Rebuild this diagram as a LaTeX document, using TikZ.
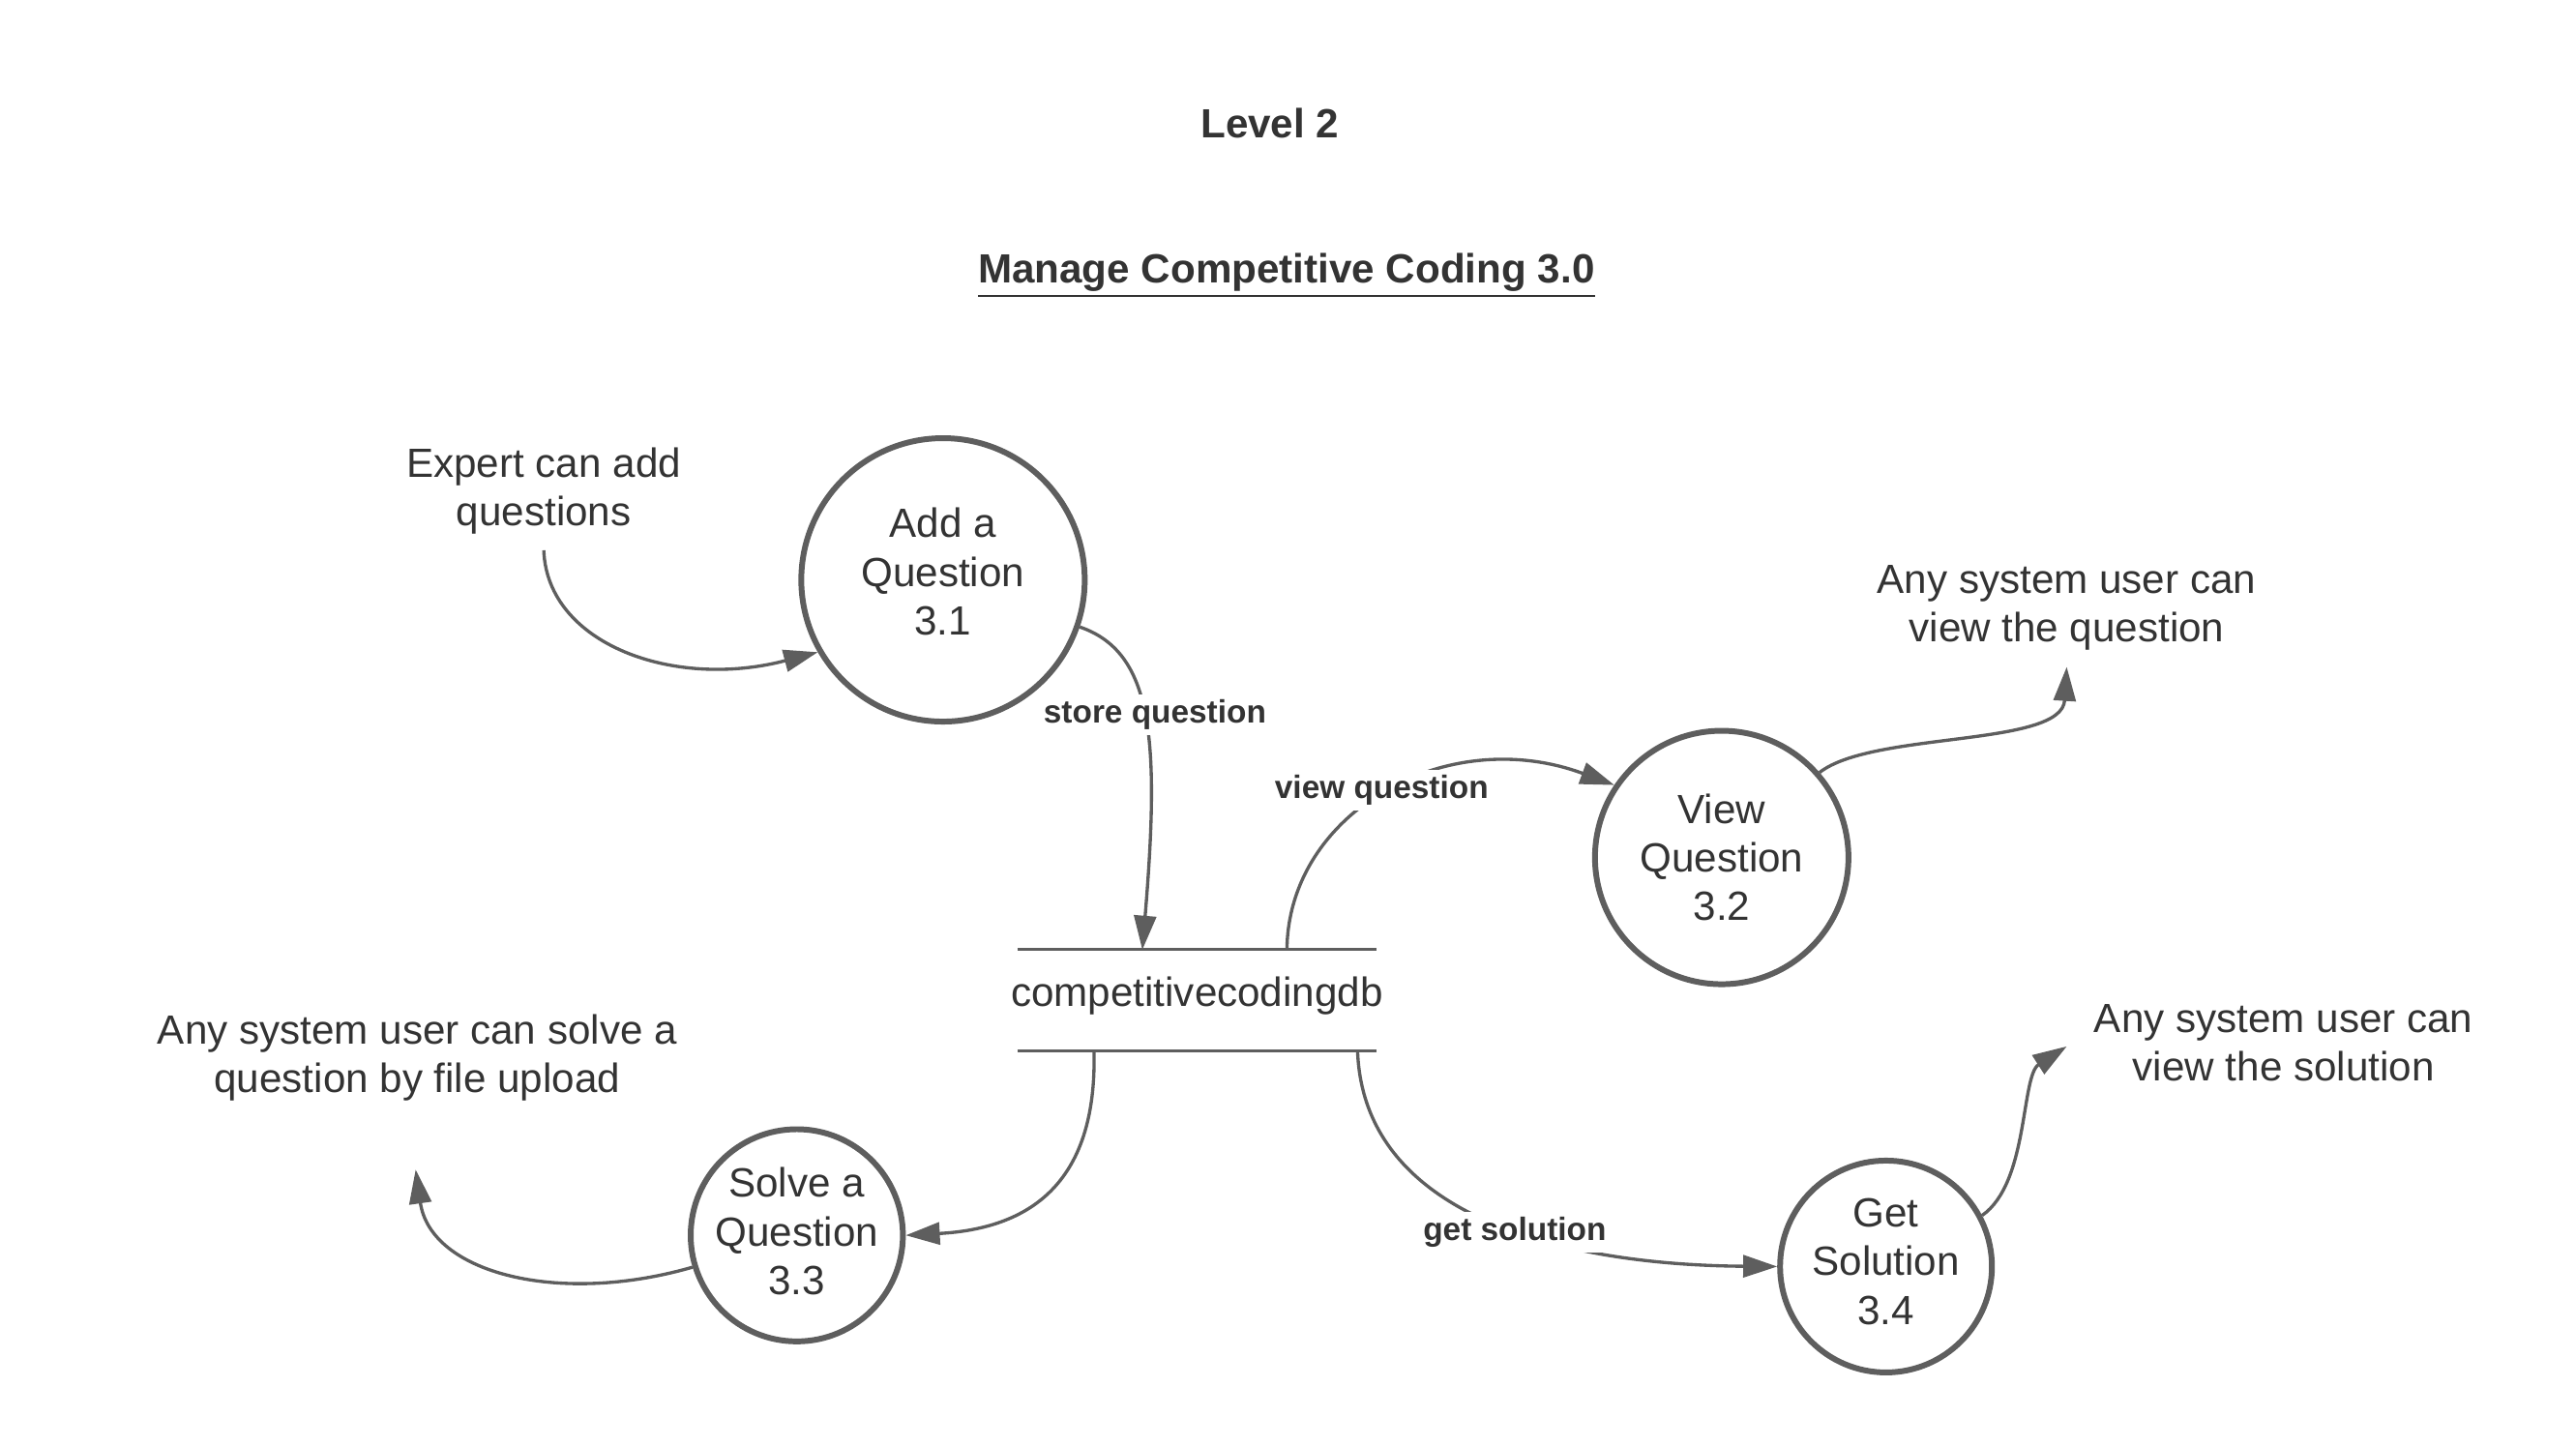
\documentclass[tikz,border=0pt]{standalone}
\usepackage{fontspec}
\setmainfont{Liberation Sans}
\usepackage{xcolor}
\usetikzlibrary{arrows.meta}
\definecolor{linegray}{HTML}{5E5E5E}
\definecolor{textgray}{HTML}{333333}

\begin{document}
\begin{tikzpicture}[x=0.01698cm,y=-0.01698cm,
    txt/.style={text=textgray,font=\fontsize{12}{14.3}\selectfont,align=center},
    head/.style={text=textgray,font=\fontsize{12}{14.3}\selectfont\bfseries,anchor=base},
    proc/.style={shape=circle,draw=linegray,line width=1.7pt,inner sep=0pt,txt},
    lbl/.style={text=textgray,font=\fontsize{9.5}{11}\selectfont\bfseries,fill=white,inner sep=1.5pt},
    flow/.style={draw=linegray,line width=0.95pt,-{Triangle[length=10pt,width=6.5pt]}},
    store/.style={draw=linegray,line width=0.8pt}]
                    \useasboundingbox (0,0) rectangle (1568,880);

                    \node[head] (level) at (773,84) {Level 2};
                    \node[head] (title) at (783,172) {\underline{Manage Competitive Coding 3.0}};

                    \node[proc,minimum size=2.93cm,text depth=5pt] (q31) at (574,353) {Add a\\Question\\3.1};
                    \node[proc,minimum size=2.62cm] (q32) at (1048,522) {View\\Question\\3.2};
                    \node[proc,minimum size=2.19cm,text depth=2.5pt] (q33) at (485,752) {Solve a\\Question\\3.3};
                    \node[proc,minimum size=2.19cm,text depth=3pt] (q34) at (1148,771) {Get\\Solution\\3.4};

                    \node[txt,inner xsep=0pt,inner ysep=0pt,minimum height=1.034cm,text height=8.8pt,text depth=5.4pt] (db) at (728.6,609) {competitivecodingdb};
                    \draw[store] ([xshift=-1.855cm]db.north) -- ([xshift=1.855cm]db.north);
                    \draw[store] ([xshift=-1.855cm]db.south) -- ([xshift=1.855cm]db.south);

                    \node[txt] (expert) at (331,299) {Expert can add\\questions};
                    \node[txt] (viewq) at (1258,370) {Any system user can\\view the question};
                    \node[txt] (solve) at (254,644) {Any system user can solve a\\question by file upload};
                    \node[txt] (viewsol) at (1390,635) {Any system user can\\view the solution};

                    \coordinate (expert-out) at (331,335);
                    \coordinate (viewq-in) at (1258,406);
                    \coordinate (solve-in) at (253,712);
                    \coordinate (viewsol-in) at (1258,637);

                    \draw[flow] (expert-out) .. controls (333,392) and (410,420) .. (q31.210);
                    \draw[flow] (q31.-19) .. controls (702,397) and (706,450) .. ([xshift=-0.565cm]db.north);
                    \draw[flow] ([xshift=0.93cm]db.north) .. controls (784,495) and (880,440) .. (q32.146);
                    \draw[flow] (q32.41) .. controls (1140,445) and (1255,455) .. (viewq-in);
                    \draw[flow] ([xshift=-1.065cm]db.south) .. controls (668,722) and (625,748) .. (q33.0);
                    \draw[flow] (q33.197) .. controls (340,795) and (262,775) .. (solve-in);
                    \draw[flow] ([xshift=1.66cm]db.south) .. controls (830,740) and (950,770) .. (q34.180);
                    \draw[flow] (q34.28) .. controls (1235,720) and (1230,655) .. (viewsol-in);

                    \node[lbl] (lstore) at (703,435) {store question};
                    \node[lbl] (lview) at (841,481) {view question};
                    \node[lbl] (lget) at (922,750) {get solution};
\end{tikzpicture}
\end{document}
